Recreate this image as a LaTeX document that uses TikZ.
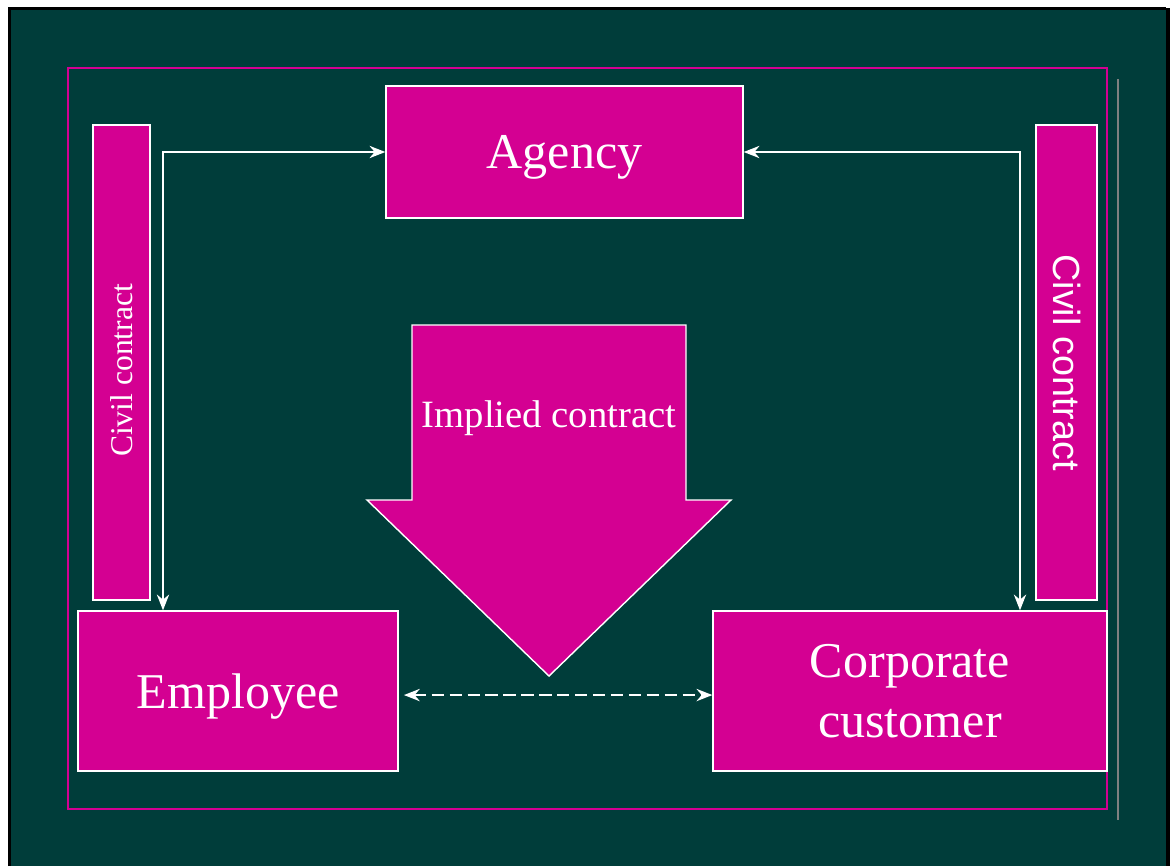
\documentclass[tikz,border=0pt]{standalone}
\usepackage{fontspec}
\setmainfont{Liberation Serif}
\newfontfamily\arialfont{Liberation Sans}
\usetikzlibrary{arrows.meta,positioning}
\definecolor{slide}{RGB}{0,61,58}
\definecolor{pinkbox}{RGB}{212,0,146}
\begin{document}
\begin{tikzpicture}[x=0.02cm, y=-0.02cm,
  block/.style={rectangle, fill=pinkbox, draw=white, line width=0.8pt, text=white, inner sep=0pt, align=center},
  link/.style={{Stealth[length=9pt,width=7pt]}-{Stealth[length=9pt,width=7pt]}, draw=white, line width=1pt}]
\useasboundingbox (0,0) rectangle (1170,866);
% Background
\fill[slide] (9,8) rectangle (1170,866);
\draw[black, line width=1.2pt] (9.5,866) -- (9.5,8.5) -- (1166,8.5);
\fill[black] (1166,8) rectangle (1170,866);
\draw[pinkbox, line width=0.9pt] (68,68) rectangle (1107,809);
\draw[gray, line width=0.6pt] (1118,79) -- (1118,820);

% Components
\node (agency) [block, minimum width=7.14cm, minimum height=2.64cm, text depth=0pt, font=\fontsize{28.5}{34}\selectfont] at (564.5,152) {Agency};
\node (employee) [block, minimum width=6.4cm, minimum height=3.2cm, text depth=0pt, font=\fontsize{28.5}{34}\selectfont] at (238,691) {Employee};
\node (corporate) [block, minimum width=7.88cm, minimum height=3.2cm, font=\fontsize{28.5}{34}\selectfont] at (910,691) {Corporate\\customer};
\node (civilleft) [block, minimum width=9.5cm, minimum height=1.14cm, rotate=90, font=\fontsize{18}{20}\selectfont] at (121.5,362.5) {Civil contract\hspace{9pt}};
\node (civilright) [block, minimum width=9.5cm, minimum height=1.22cm, rotate=-90, font=\arialfont\fontsize{21.5}{24}\selectfont] at (1066.5,362.5) {Civil contract};

% Implied contract arrow
\filldraw[fill=pinkbox, draw=white, line width=0.8pt] (412,325) -- (686,325) -- (686,500) -- (731,500) -- (549,676) -- (367,500) -- (412,500) -- cycle;
\node (implied) [text=white, font=\fontsize{22}{26}\selectfont] at (549,418) {Implied contract};

% Links
\coordinate (leftbend) at (163,152);
\coordinate (rightbend) at (1020,152);
\draw[link] (agency.west) -| (leftbend |- employee.north);
\draw[link] (agency.east) -| (rightbend |- corporate.north);
\draw[link, line width=1.2pt, dash pattern=on 7pt off 3.2pt, shorten <=3pt] ([yshift=-2.3pt]employee.east) -- ([yshift=-2.3pt]corporate.west);

\end{tikzpicture}
\end{document}
